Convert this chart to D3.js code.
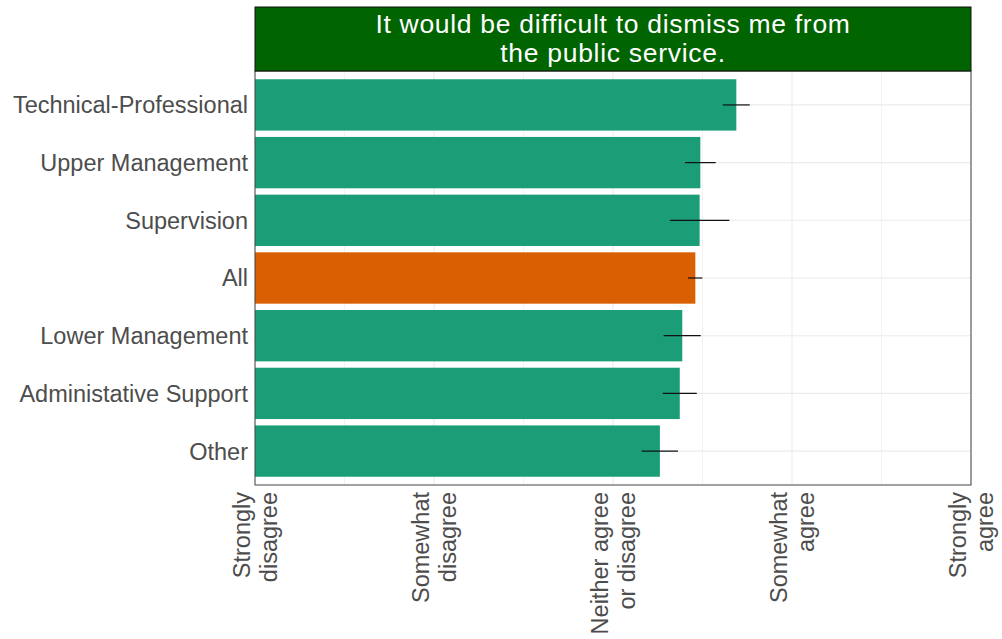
<!DOCTYPE html>
<html><head><meta charset="utf-8">
<script src="https://cdn.jsdelivr.net/npm/d3@7"></script>
<style>body{margin:0;background:#fff}svg{display:block}text{font-family:"Liberation Sans",Arial,sans-serif}</style>
</head><body>
<svg id="c" width="1002" height="639"></svg>
<script>
const categories = ["Technical-Professional","Upper Management","Supervision","All","Lower Management","Administative Support","Other"];
const means = [3.689, 3.488, 3.484, 3.460, 3.387, 3.373, 3.262];
const ciLow = [3.613, 3.402, 3.318, 3.419, 3.283, 3.278, 3.160];
const ciHigh = [3.764, 3.574, 3.650, 3.499, 3.490, 3.468, 3.363];
const highlight = ["All"];
const tickValues = [1,2,3,4,5];
const tickLabels = [["Strongly","disagree"],["Somewhat","disagree"],["Neither agree","or disagree"],["Somewhat","agree"],["Strongly","agree"]];
const titleLines = ["It would be difficult to dismiss me from","the public service."];

const svg = d3.select("#c");
const L = 255, R = 971, T = 71, B = 485;
const x = d3.scaleLinear().domain([1,5]).range([L,R]);
const y = d3.scaleBand().domain(categories).range([T,B]).paddingInner(0.11).paddingOuter(0.143);

// grid
const minor = [1.5,2.5,3.5,4.5];
svg.append("g").selectAll("line").data(minor).join("line")
  .attr("x1",d=>x(d)).attr("x2",d=>x(d)).attr("y1",T).attr("y2",B)
  .attr("stroke","#f0f0f0").attr("stroke-width",0.8);
svg.append("g").selectAll("line").data(tickValues).join("line")
  .attr("x1",d=>x(d)).attr("x2",d=>x(d)).attr("y1",T).attr("y2",B)
  .attr("stroke","#ebebeb").attr("stroke-width",1.1);
svg.append("g").selectAll("line").data(categories).join("line")
  .attr("x1",L).attr("x2",R).attr("y1",d=>y(d)+y.bandwidth()/2).attr("y2",d=>y(d)+y.bandwidth()/2)
  .attr("stroke","#ebebeb").attr("stroke-width",1.1);

// bars
svg.append("g").selectAll("rect").data(categories).join("rect")
  .attr("x",x(1)).attr("y",d=>y(d))
  .attr("width",(d,i)=>x(means[i])-x(1)).attr("height",y.bandwidth())
  .attr("fill",d=>highlight.includes(d)?"#d95f02":"#1b9e77");

// error bars
svg.append("g").selectAll("line").data(categories).join("line")
  .attr("x1",(d,i)=>x(ciLow[i])).attr("x2",(d,i)=>x(ciHigh[i]))
  .attr("y1",d=>y(d)+y.bandwidth()/2).attr("y2",d=>y(d)+y.bandwidth()/2)
  .attr("stroke","#111").attr("stroke-width",1.2);

// panel border
svg.append("rect").attr("x",L).attr("y",T).attr("width",R-L).attr("height",B-T)
  .attr("fill","none").attr("stroke","#444").attr("stroke-width",1);

// strip
svg.append("rect").attr("x",L).attr("y",7).attr("width",R-L).attr("height",T-7)
  .attr("fill","#006400").attr("stroke","#111").attr("stroke-width",1);
svg.append("g").selectAll("text").data(titleLines).join("text")
  .attr("x",(L+R)/2).attr("y",(d,i)=>32.5+i*29.5).attr("text-anchor","middle")
  .attr("fill","#fff").style("font-size","26.5px").style("letter-spacing","0.7px").text(d=>d);

// y axis labels
svg.append("g").selectAll("text").data(categories).join("text")
  .attr("x",248).attr("y",d=>y(d)+y.bandwidth()/2).attr("dy","0.36em")
  .attr("text-anchor","end").attr("fill","#4d4d4d").style("font-size","23.5px").text(d=>d);

// x axis labels
const xl = svg.append("g").selectAll("g").data(tickValues).join("g")
  .attr("transform",d=>`translate(${x(d)},492) rotate(-90)`);
xl.each(function(d,i){
  const t = d3.select(this).append("text").attr("text-anchor","end").attr("fill","#4d4d4d").style("font-size","23.5px");
  tickLabels[i].forEach((s,j)=>t.append("tspan").attr("x",0).attr("y",j===0?-5.5:22).text(s));
});
</script>
</body></html>
